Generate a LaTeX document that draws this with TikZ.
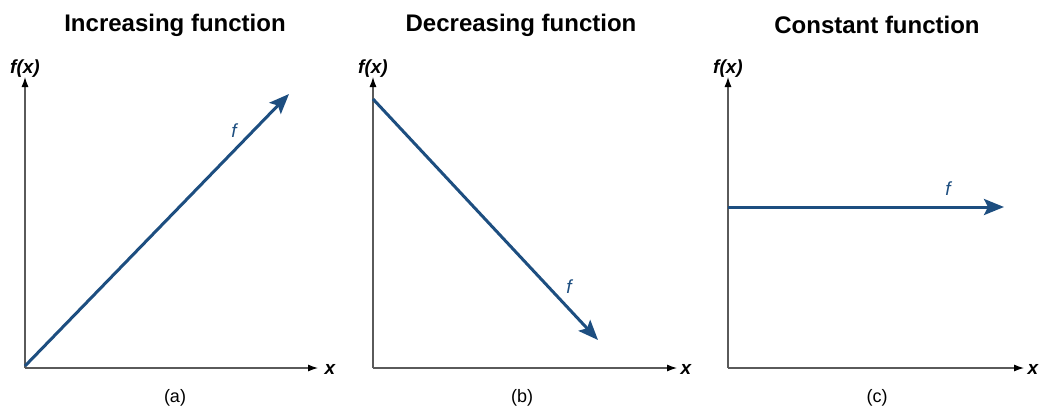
\documentclass[tikz,border=0pt]{standalone}
\usepackage{fontspec}
\setmainfont{Liberation Sans}
\usetikzlibrary{arrows.meta}
\definecolor{fblue}{RGB}{29,78,128}
\definecolor{axisgray}{RGB}{90,90,90}
\tikzset{
  axis/.style={draw=axisgray, line width=1.1pt, -{Latex[length=10pt,width=7pt,color=black]}},
  fline/.style={draw=fblue, line width=3pt, -{Stealth[length=20pt,width=16pt,inset=4pt]}},
  title/.style={font=\bfseries\fontsize{24}{28}\selectfont, anchor=center},
  caption/.style={font=\fontsize{18}{22}\selectfont, anchor=center},
  axlabel/.style={font=\bfseries\itshape\fontsize{19}{22}\selectfont},
  flabel/.style={font=\itshape\fontsize{19}{22}\selectfont, text=fblue}
}
\begin{document}
\begin{tikzpicture}[x=1pt,y=-1pt]
\useasboundingbox (0,0) rectangle (1043,413);
% panel a
\coordinate (oa) at (25,368);
\coordinate (ya) at (25,77);
\coordinate (xa) at (318,368);
\coordinate (sa) at (25,366);
\coordinate (ea) at (289,94);
\draw[axis] (oa) -- (ya);
\draw[axis] (oa) -- (xa);
\draw[fline] (sa) -- (ea);
\node[title] (ta) at (175,25) {Increasing function};
\node[axlabel] (fxa) at (25,69) {f(x)};
\node[axlabel] (xla) at (330,369) {x};
\node[flabel] (fa) at (234,131) {f};
\node[caption] (ca) at (175,398) {(a)};
% panel b
\coordinate (ob) at (373,368);
\coordinate (yb) at (373,77);
\coordinate (xb) at (677,368);
\coordinate (sb) at (373,99);
\coordinate (eb) at (598,340);
\draw[axis] (ob) -- (yb);
\draw[axis] (ob) -- (xb);
\draw[fline] (sb) -- (eb);
\node[title] (tb) at (521,25) {Decreasing function};
\node[axlabel] (fxb) at (373,69) {f(x)};
\node[axlabel] (xlb) at (686,369) {x};
\node[flabel] (fb) at (569,287) {f};
\node[caption] (cb) at (522,398) {(b)};
% panel c
\coordinate (oc) at (728,368);
\coordinate (yc) at (728,77);
\coordinate (xc) at (1024,368);
\coordinate (sc) at (728,207);
\coordinate (ec) at (1004,207);
\draw[axis] (oc) -- (yc);
\draw[axis] (oc) -- (xc);
\draw[fline] (sc) -- (ec);
\node[title] (tc) at (877,25) {Constant function};
\node[axlabel] (fxc) at (728,69) {f(x)};
\node[axlabel] (xlc) at (1033,369) {x};
\node[flabel] (fc) at (948,189) {f};
\node[caption] (cc) at (877,398) {(c)};
\end{tikzpicture}
\end{document}
